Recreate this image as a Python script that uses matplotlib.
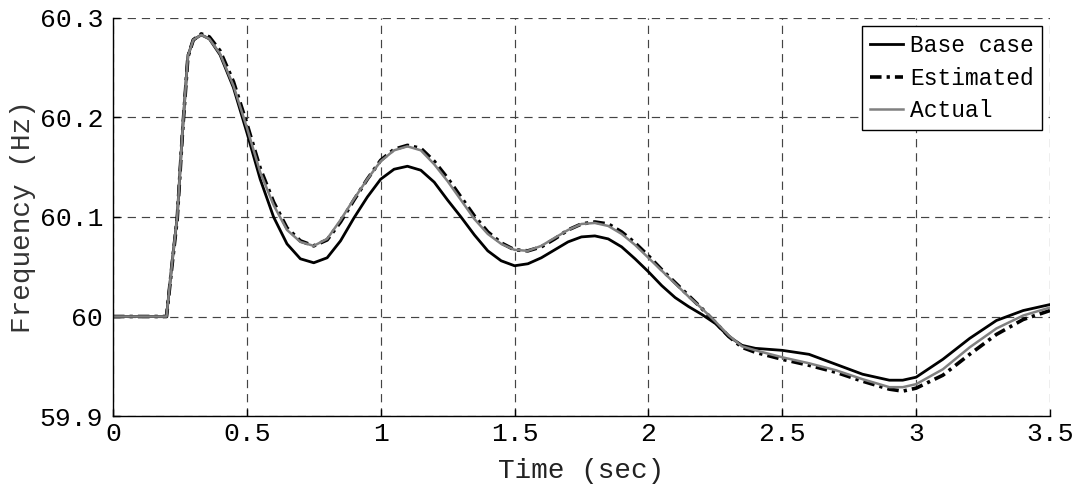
import numpy as np
import matplotlib
matplotlib.use('Agg')
import matplotlib.pyplot as plt

# time samples (sec)
t = [0.0, 0.19, 0.20, 0.22, 0.24, 0.26, 0.28, 0.30, 0.33, 0.36, 0.40, 0.45,
     0.50, 0.55, 0.60, 0.65, 0.70, 0.75, 0.80, 0.85, 0.90, 0.95, 1.00, 1.05,
     1.10, 1.15, 1.20, 1.25, 1.30, 1.35, 1.40, 1.45, 1.50, 1.55, 1.60, 1.65,
     1.70, 1.75, 1.80, 1.85, 1.90, 1.95, 2.00, 2.05, 2.10, 2.15, 2.20, 2.25,
     2.30, 2.35, 2.40, 2.50, 2.60, 2.70, 2.80, 2.90, 2.95, 3.00, 3.10, 3.20,
     3.30, 3.40, 3.50]

base_case = [60.0, 60.0, 60.0, 60.052, 60.100, 60.188, 60.262, 60.278, 60.283,
             60.279, 60.263, 60.230, 60.185, 60.138, 60.100, 60.073, 60.058,
             60.054, 60.059, 60.076, 60.099, 60.120, 60.138, 60.148, 60.151,
             60.147, 60.135, 60.117, 60.100, 60.082, 60.066, 60.056, 60.051,
             60.053, 60.059, 60.067, 60.075, 60.080, 60.081, 60.078, 60.070,
             60.058, 60.045, 60.031, 60.019, 60.010, 60.002, 59.993, 59.980,
             59.971, 59.968, 59.966, 59.962, 59.952, 59.942, 59.936, 59.936,
             59.939, 59.957, 59.978, 59.996, 60.006, 60.012]

estimated = [60.0, 60.0, 60.0, 60.050, 60.098, 60.186, 60.261, 60.278, 60.284,
             60.281, 60.267, 60.236, 60.194, 60.149, 60.115, 60.089, 60.076,
             60.071, 60.077, 60.095, 60.117, 60.138, 60.157, 60.168, 60.172,
             60.169, 60.156, 60.139, 60.120, 60.101, 60.085, 60.074, 60.067,
             60.066, 60.070, 60.078, 60.087, 60.093, 60.095, 60.093, 60.085,
             60.074, 60.061, 60.047, 60.034, 60.021, 60.008, 59.994, 59.980,
             59.969, 59.964, 59.957, 59.951, 59.944, 59.935, 59.927, 59.925,
             59.928, 59.941, 59.962, 59.982, 59.997, 60.006]

actual = [60.0, 60.0, 60.0, 60.052, 60.100, 60.188, 60.262, 60.278, 60.283,
          60.279, 60.264, 60.232, 60.190, 60.145, 60.112, 60.087, 60.075,
          60.071, 60.078, 60.097, 60.118, 60.138, 60.156, 60.167, 60.171,
          60.167, 60.153, 60.136, 60.117, 60.098, 60.083, 60.073, 60.067,
          60.066, 60.071, 60.079, 60.087, 60.093, 60.094, 60.091, 60.083,
          60.072, 60.059, 60.046, 60.033, 60.020, 60.008, 59.995, 59.981,
          59.970, 59.966, 59.959, 59.953, 59.946, 59.937, 59.929, 59.929,
          59.932, 59.947, 59.969, 59.988, 60.001, 60.009]

xticks = [0, 0.5, 1, 1.5, 2, 2.5, 3, 3.5]
xticklabels = ['0', '0.5', '1', '1.5', '2', '2.5', '3', '3.5']
yticks = [59.9, 60.0, 60.1, 60.2, 60.3]
yticklabels = ['59.9', '60', '60.1', '60.2', '60.3']

plt.rcParams['font.family'] = ['Liberation Mono', 'DejaVu Sans Mono']

fig = plt.figure(figsize=(10.82, 4.86), dpi=100)
ax = fig.add_axes([0.1044, 0.144, 0.8660, 0.819])

ax.plot(t, base_case, color='black', lw=2.0, label='Base case')
ax.plot(t, estimated, color='black', lw=2.6, linestyle=(0, (3.2, 1.4, 0.9, 1.4)),
        label='Estimated')
ax.plot(t, actual, color='#808080', lw=1.8, label='Actual')

ax.set_xlim(0, 3.5)
ax.set_ylim(59.9, 60.3)
ax.set_xticks(xticks)
ax.set_xticklabels(xticklabels)
ax.set_yticks(yticks)
ax.set_yticklabels(yticklabels)
ax.tick_params(direction='in', length=5, width=1, labelsize=19,
               top=False, right=False)
ax.tick_params(axis='y', pad=7)
ax.tick_params(axis='x', pad=4)

ax.grid(True, color='#444444', linestyle=(0, (7, 5)), linewidth=0.85)
ax.spines['top'].set_visible(False)
ax.spines['right'].set_visible(False)
ax.spines['left'].set_linewidth(1.0)
ax.spines['bottom'].set_linewidth(1.0)

ax.set_xlabel('Time (sec)', fontsize=20, labelpad=9, color='#222222')
ax.set_ylabel('Frequency (Hz)', fontsize=20, labelpad=3, color='#333333')

leg = ax.legend(loc='upper right', fontsize=16.5, frameon=True, fancybox=False,
                framealpha=1, edgecolor='black', handlelength=1.45,
                handletextpad=0.3, labelspacing=0.42, borderpad=0.35,
                borderaxespad=0.35)
leg.get_frame().set_linewidth(1.0)

fig.savefig('out.png', dpi=100)
